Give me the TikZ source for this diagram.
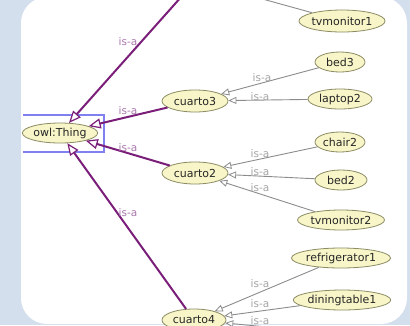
\documentclass[tikz,border=0pt]{standalone}
\usepackage{fontspec}
\setmainfont{DejaVu Sans}
\usetikzlibrary{arrows.meta,shapes.geometric}
\definecolor{bgblue}{RGB}{212,223,237}
\definecolor{objfill}{RGB}{248,245,200}
\definecolor{objborder}{RGB}{140,140,100}
\definecolor{purp}{RGB}{122,30,122}
\definecolor{purplabel}{RGB}{170,120,175}
\definecolor{grline}{RGB}{140,140,140}
\definecolor{grlabel}{RGB}{165,165,165}
\definecolor{selblue}{RGB}{128,128,240}
\tikzset{
  obj/.style={ellipse, draw=objborder, fill=objfill, line width=0.8pt, inner sep=0pt,
    minimum height=20pt, font=\fontsize{11}{13}\selectfont, text=black!85},
  isa/.style={draw=purp, line width=2pt,
    -{Triangle[open, length=12pt, width=10pt, line width=1.2pt, fill=white]}},
  gisa/.style={draw=grline, line width=0.9pt,
    -{Triangle[open, length=8pt, width=7pt, line width=0.8pt, fill=white]}},
  gline/.style={draw=grline, line width=0.9pt},
  plab/.style={text=purplabel, font=\fontsize{10.5}{12}\selectfont, inner sep=0pt},
  glab/.style={text=grlabel, font=\fontsize{10.5}{12}\selectfont, inner sep=0pt}
}
\begin{document}
\begin{tikzpicture}[x=1pt,y=-1pt]
\useasboundingbox (0,0) rectangle (410,325);
\fill[bgblue] (0,0) rectangle (410,325);
\clip (0,0) rectangle (410,325);
\fill[white, rounded corners=26pt] (21,-3) rectangle (407,324);

% selection frame
\draw[selblue, line width=2.4pt] (23,115) -- (104,115) -- (104,152) -- (23,152);

% nodes
\node[obj, minimum width=74pt] (thing) at (60,133) {owl:Thing};
\node[obj, minimum width=66pt, minimum height=22pt] (cuarto3) at (195,101) {cuarto3};
\node[obj, minimum width=66pt, minimum height=22pt] (cuarto2) at (195,173) {cuarto2};
\node[obj, minimum width=64pt, minimum height=22pt] (cuarto4) at (194,320) {cuarto4};
\node[obj, minimum width=86pt, minimum height=22pt] (tvmon1) at (342,21) {tvmonitor1};
\node[obj, minimum width=50pt] (bed3) at (340,62) {bed3};
\node[obj, minimum width=64pt] (laptop2) at (340,99) {laptop2};
\node[obj, minimum width=50pt] (chair2) at (340,142) {chair2};
\node[obj, minimum width=52pt] (bed2) at (341,180) {bed2};
\node[obj, minimum width=87pt] (tvmon2) at (341,220) {tvmonitor2};
\node[obj, minimum width=97pt] (fridge1) at (341,258) {refrigerator1};
\node[obj, minimum width=92pt] (dining1) at (342,300) {diningtable1};

\coordinate (ptop) at (182,-4);
\coordinate (gtop) at (230,-10);
\coordinate (gbot) at (330,333);

% purple is-a edges
\draw[isa] (ptop) -- (thing);
\draw[isa] (cuarto3) -- (thing);
\draw[isa] (cuarto2) -- (thing);
\draw[isa] (cuarto4) -- (thing);

% gray is-a edges
\draw[gline] (tvmon1) -- (gtop);
\draw[gisa] (bed3) -- (cuarto3);
\draw[gisa] (laptop2) -- (cuarto3);
\draw[gisa] (chair2) -- (cuarto2);
\draw[gisa] (bed2) -- (cuarto2);
\draw[gisa] (tvmon2) -- (cuarto2);
\draw[gisa] (fridge1) -- (cuarto4);
\draw[gisa] (dining1) -- (cuarto4);
\draw[gisa] (gbot) -- (cuarto4);

% labels
\node[plab] (l1) at (128,42) {is-a};
\node[plab] (l2) at (128,111) {is-a};
\node[plab] (l3) at (128,148) {is-a};
\node[plab] (l4) at (128,213) {is-a};
\node[glab] (l5) at (262,78) {is-a};
\node[glab] (l6) at (260,97) {is-a};
\node[glab] (l7) at (260,154) {is-a};
\node[glab] (l8) at (260,172) {is-a};
\node[glab] (l9) at (260,188) {is-a};
\node[glab] (l10) at (260,284) {is-a};
\node[glab] (l11) at (260,304) {is-a};
\node[glab] (l12) at (260,321) {is-a};
\end{tikzpicture}
\end{document}
